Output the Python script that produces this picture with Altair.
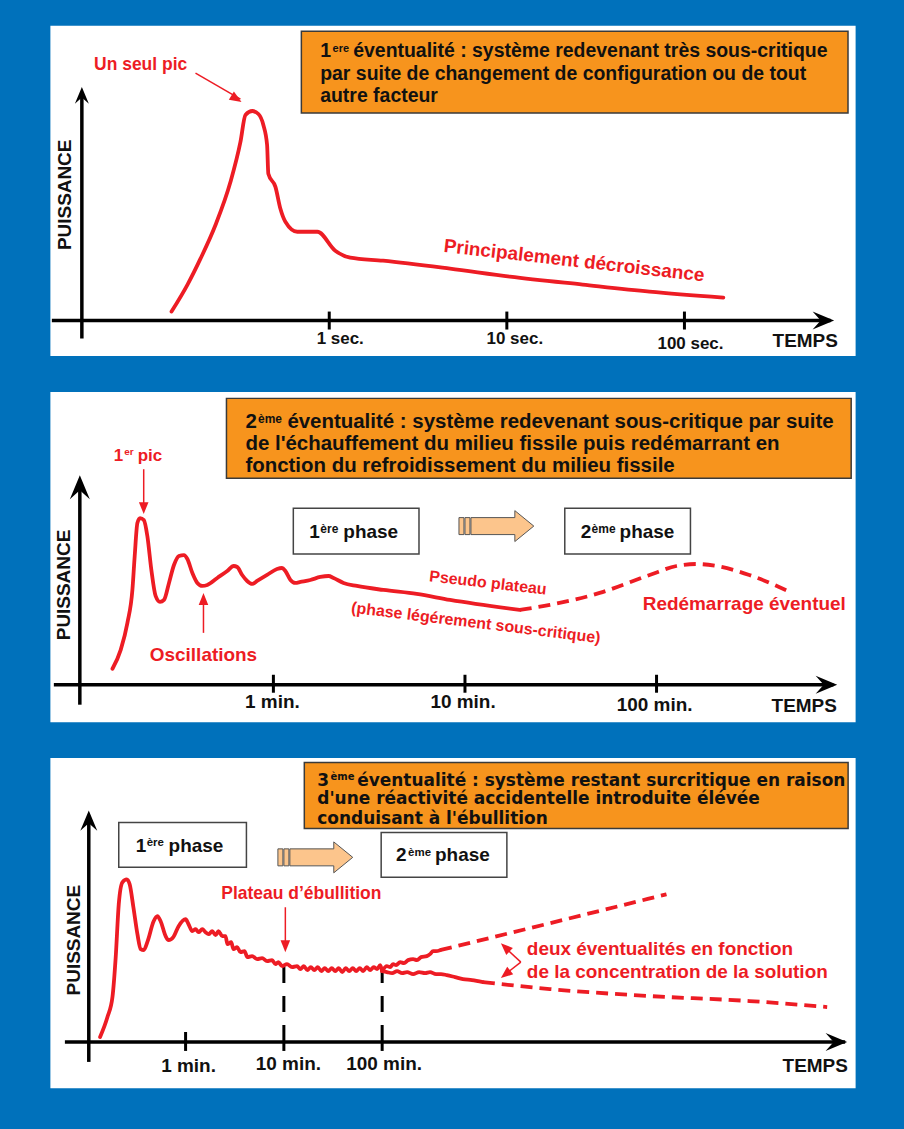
import altair as alt
import pandas as pd

RED = "#ED1C24"
ORANGE = "#F7941D"
PALE = "#FCC58C"
BLUE = "#0071BB"
INK = "#111111"
FONT = "Liberation Sans"
WIDE = "DejaVu Sans"
PW, PH = 807, 331

# ---------------------------------------------------------------------------
# Panel data: x = log10(time) in the panel's unit, y = puissance (arbitrary)
# ---------------------------------------------------------------------------
# Panel 1 (seconds)
p1_x = [-0.888, -0.798, -0.725, -0.640, -0.556, -0.500, -0.472, -0.433, -0.399,
        -0.371, -0.350, -0.343, -0.303, -0.275, -0.247, -0.180, -0.096, -0.067,
        0.034, 0.118, 0.303, 0.680, 1.017, 1.427, 1.803, 2.219]
p1_y = [9, 36, 62, 96, 139, 179, 206, 210, 207, 196, 176, 147, 134, 112, 99, 89,
        89, 89, 70, 63, 60, 52, 44, 36, 29, 23]
p1_ticks = [0, 1, 2]
p1_tick_labels = ["1 sec.", "10 sec.", "100 sec."]

# Panel 2 (minutes)
p2_x = [-0.840, -0.797, -0.762, -0.736, -0.724, -0.710, -0.696, -0.676, -0.658,
        -0.637, -0.615, -0.592, -0.571, -0.545, -0.519, -0.493, -0.467, -0.449,
        -0.423, -0.397, -0.371, -0.345, -0.293, -0.241, -0.207, -0.189, -0.163,
        -0.137, -0.111, -0.085, -0.033, 0.019, 0.045, 0.0625, 0.089, 0.115,
        0.141, 0.193, 0.245, 0.288, 0.314, 0.366, 0.436, 0.574, 0.748, 0.922, 1.286]
p2_y = [16, 35, 62, 95, 129, 162, 167, 165, 149, 115, 89, 83, 85, 102, 120, 129,
        130, 126, 112, 102, 99, 100, 107, 114, 119, 118, 110, 104, 101, 104, 110,
        116, 117, 114, 105, 102, 103, 105, 108, 109, 107, 102, 99, 95, 91, 85, 75]
p2_restart_x = [1.286, 1.443, 1.703, 1.964, 2.104, 2.208, 2.3125, 2.484, 2.708]
p2_restart_y = [75, 80, 92, 110, 119, 121, 119, 110, 92]
p2_ticks = [0, 1, 2]
p2_tick_labels = ["1 min.", "10 min.", "100 min."]

# Panel 3 (minutes)
p3_x = [-0.870, -0.795, -0.744, -0.711, -0.680, -0.643, -0.599, -0.569, -0.531,
        -0.490, -0.457, -0.426, -0.386, -0.325, -0.287, -0.254, -0.203, -0.173,
        -0.125, -0.071, 0.000, 0.030, 0.068, 0.102, 0.132, 0.170, 0.203, 0.234,
        0.271, 0.305, 0.335, 0.373, 0.406, 0.426, 0.464, 0.487, 0.525, 0.558,
        0.599, 0.629, 0.677, 0.728, 0.779, 0.829, 0.880, 0.914, 0.944, 0.982,
        1.032, 1.083, 1.134, 1.168, 1.203, 1.239, 1.274, 1.310, 1.345, 1.381,
        1.416, 1.452, 1.487, 1.523, 1.558, 1.594, 1.629, 1.665, 1.701, 1.736,
        1.772, 1.807, 1.843, 1.878, 1.914, 1.949, 1.980, 2.000]
p3_y = [5, 25, 45, 85, 138, 160, 163, 158, 135, 108, 93, 92, 101, 121, 126, 121,
        106, 102, 105, 116, 123, 118, 111, 113, 110, 113, 110, 108, 111, 107, 111,
        106, 106, 98, 100, 93, 95, 90, 91, 85, 86, 83, 84, 81, 82, 78, 80, 76, 78,
        75, 76, 73, 76, 72, 75, 72, 75, 71, 74, 71, 74, 71, 74, 70, 74, 71, 74, 71,
        74, 71, 75, 72, 75, 73, 77, 71]
p3_up_x = [2.000, 2.048, 2.081, 2.112, 2.142, 2.183, 2.223, 2.264, 2.315, 2.355,
           2.396, 2.454, 2.487, 2.518, 2.548, 2.589]
p3_up_y = [71, 76, 75, 78, 77, 80, 79, 82, 83, 82, 85, 86, 88, 91, 91, 92]
p3_up_dash_x = [2.589, 3.706, 4.893]
p3_up_dash_y = [92, 119, 148]
p3_low_x = [2.000, 2.048, 2.102, 2.152, 2.203, 2.254, 2.315, 2.376, 2.437, 2.487,
            2.548, 2.599, 2.657, 2.741, 2.822, 2.914, 3.025]
p3_low_y = [71, 70, 69, 71, 69, 70, 68, 70, 69, 70, 68, 68, 67, 65, 63, 62, 60]
p3_low_dash_x = [3.025, 3.706, 4.721, 5.736, 6.528]
p3_low_dash_y = [60, 53, 46, 41, 35]
p3_ticks = [0, 1, 2]
p3_tick_labels = ["1 min.", "10 min.", "100 min."]

# panel scale domains
XDOM = {1: [-1.573, 2.961], 2: [-1.1667, 3.0365], 3: [-1.3807, 6.8122]}
YDOM = {1: [-35, 296], 2: [-37, 294], 3: [-46, 285]}

UP_HEAD = "M0,0L1,2.4L0,1.5L-1,2.4Z"
RIGHT_HEAD = "M0,0L-2.4,-1L-1.5,0L-2.4,1Z"
TRI_HEAD = "M0,0L-0.6,1.5L0.6,1.5Z"
BLOCK_ARROW = ("M-1.172,-0.266L-1.016,-0.266L-1.016,0.266L-1.172,0.266Z "
               "M-0.984,-0.266L-0.828,-0.266L-0.828,0.266L-0.984,0.266Z "
               "M-0.797,-0.266L0.578,-0.266L0.578,-0.484L1.172,0L0.578,0.484"
               "L0.578,0.266L-0.797,0.266Z")


def scales(p):
    return (alt.Scale(domain=XDOM[p], nice=False, zero=False),
            alt.Scale(domain=YDOM[p], nice=False, zero=False))


def curve(p, xs, ys, **kw):
    xs_, ys_ = scales(p)
    df = pd.DataFrame({"x": xs, "y": ys, "o": list(range(len(xs)))})
    return alt.Chart(df).mark_line(**kw).encode(
        x=alt.X("x:Q", scale=xs_, axis=None),
        y=alt.Y("y:Q", scale=ys_, axis=None),
        order=alt.Order("o:Q"))


def segs(p, x, y, x2, y2, mark="rule", **kw):
    xs_, ys_ = scales(p)
    df = pd.DataFrame({"x": x, "y": y, "x2": x2, "y2": y2})
    ch = alt.Chart(df)
    ch = ch.mark_rule(**kw) if mark == "rule" else ch.mark_rect(**kw)
    return ch.encode(
        x=alt.X("x:Q", scale=xs_, axis=None),
        y=alt.Y("y:Q", scale=ys_, axis=None),
        x2="x2:Q", y2="y2:Q")


def texts(p, x, y, t, **kw):
    xs_, ys_ = scales(p)
    df = pd.DataFrame({"x": x, "y": y, "t": t})
    style = dict(font=FONT, fontWeight="bold", color=INK, align="left",
                 baseline="middle")
    style.update(kw)
    return alt.Chart(df).mark_text(**style).encode(
        x=alt.X("x:Q", scale=xs_, axis=None),
        y=alt.Y("y:Q", scale=ys_, axis=None),
        text="t:N")


def marker(p, x, y, **kw):
    xs_, ys_ = scales(p)
    df = pd.DataFrame({"x": x, "y": y})
    style = dict(opacity=1, filled=True)
    style.update(kw)
    return alt.Chart(df).mark_point(**style).encode(
        x=alt.X("x:Q", scale=xs_, axis=None),
        y=alt.Y("y:Q", scale=ys_, axis=None))


def axes(p, yx, ybot, ytop, xl, xr, ticks, tlo, thi, head_up, head_right):
    return [
        segs(p, [yx], [ybot], [yx], [ytop - 6], color="black", strokeWidth=3.5),
        segs(p, [xl], [0], [xr - 0.02], [0], color="black", strokeWidth=3.5),
        segs(p, ticks, [thi] * len(ticks), ticks, [tlo] * len(ticks),
             color="black", strokeWidth=3),
        marker(p, [yx], [ytop], shape=UP_HEAD, size=head_up, fill="black",
               strokeWidth=0),
        marker(p, [xr], [0], shape=RIGHT_HEAD, size=head_right, fill="black",
               strokeWidth=0),
    ]


def head(p, x, y, angle):
    return marker(p, [x], [y], shape=TRI_HEAD, size=256, fill=RED,
                  strokeWidth=0, angle=angle)


def phase_box(p, x1, y1, x2, y2):
    return segs(p, [x1], [y1], [x2], [y2], mark="rect", fill="white",
                stroke="#444444", strokeWidth=1.5)


def block_arrow(p, x, y):
    return marker(p, [x], [y], shape=BLOCK_ARROW, size=4096, fill=PALE,
                  stroke="#555555", strokeWidth=1)


solid = dict(color=RED, strokeWidth=3.8, interpolate="monotone",
             strokeCap="round", strokeJoin="round")
dashed = dict(color=RED, strokeWidth=3.8, interpolate="monotone",
              strokeDash=[12, 7])

# ------------------------------- panel 1 -----------------------------------
p1 = alt.layer(
    segs(1, [-0.157], [290], [2.921], [208], mark="rect", fill=ORANGE,
         stroke="#3a3a3a", strokeWidth=1.5),
    texts(1, [-0.051], [264], ["1"], fontSize=19.5, baseline="alphabetic"),
    texts(1, [0.019], [269], ["ere"], fontSize=11, baseline="alphabetic"),
    texts(1, [0.135, -0.051, -0.051], [264, 241, 219],
          ["éventualité : système redevenant très sous-critique",
           "par suite de changement de configuration ou de tout",
           "autre facteur"], fontSize=19.5, baseline="alphabetic"),
    *axes(1, -1.393, -18, 234, -1.562, 2.843, p1_ticks, -9, 9, 196, 324),
    texts(1, [0.062, 1.045, 2.034], [-19, -19, -24], p1_tick_labels,
          fontSize=17, align="center"),
    texts(1, [2.680], [-21], ["TEMPS"], fontSize=19, align="center"),
    texts(1, [-1.489], [126], ["PUISSANCE"], fontSize=19, align="center",
          angle=270),
    curve(1, p1_x, p1_y, **solid),
    texts(1, [-1.062], [256], ["Un seul pic"], fontSize=17.5, color=RED,
          align="center"),
    segs(1, [-0.753], [248], [-0.500], [222], color=RED, strokeWidth=1.5),
    head(1, -0.494, 219, 122),
    texts(1, [1.379], [60], ["Principalement décroissance"], fontSize=19,
          color=RED, align="center", angle=6.5),
).properties(width=PW, height=PH)

# ------------------------------- panel 2 -----------------------------------
p2 = alt.layer(
    segs(2, [-0.245], [287], [3.016], [207], mark="rect", fill=ORANGE,
         stroke="#3a3a3a", strokeWidth=1.5),
    texts(2, [-0.146], [257], ["2"], fontSize=20.5, baseline="alphabetic"),
    texts(2, [-0.080], [262], ["ème"], fontSize=12, baseline="alphabetic"),
    texts(2, [0.073, -0.146, -0.146], [257, 235, 213],
          ["éventualité : système redevenant sous-critique par suite",
           "de l'échauffement du milieu fissile puis redémarrant en",
           "fonction du refroidissement du milieu fissile"],
          fontSize=20.5, baseline="alphabetic"),
    phase_box(2, 0.104, 177, 0.760, 131),
    phase_box(2, 1.521, 177, 2.177, 131),
    texts(2, [0.1875, 0.365, 1.604, 1.807], [147, 147, 147, 147],
          ["1", "phase", "2", "phase"], fontSize=19, baseline="alphabetic"),
    texts(2, [0.245, 1.661], [152, 152], ["ère", "ème"], fontSize=12,
          baseline="alphabetic"),
    block_arrow(2, 1.164, 159),
    *axes(2, -1.0104, -20, 210, -1.146, 2.943, p2_ticks, -8, 10, 400, 324),
    texts(2, [-0.005, 0.99, 1.99], [-17, -17, -20], p2_tick_labels,
          fontSize=19, align="center"),
    texts(2, [2.771], [-21], ["TEMPS"], fontSize=19, align="center"),
    texts(2, [-1.094], [100], ["PUISSANCE"], fontSize=19, align="center",
          angle=270),
    curve(2, p2_x, p2_y, **solid),
    curve(2, p2_restart_x, p2_restart_y, **dashed),
    texts(2, [-0.833, -0.708], [224, 224], ["1", "pic"], fontSize=17,
          color=RED, baseline="alphabetic"),
    texts(2, [-0.779], [230], ["er"], fontSize=10, color=RED,
          baseline="alphabetic"),
    segs(2, [-0.677], [216], [-0.677], [175], color=RED, strokeWidth=1.5),
    head(2, -0.677, 171, 180),
    texts(2, [-0.365], [30], ["Oscillations"], fontSize=19, color=RED,
          align="center"),
    segs(2, [-0.365], [52], [-0.365], [88], color=RED, strokeWidth=1.5),
    head(2, -0.365, 92, 0),
    texts(2, [1.120], [102], ["Pseudo plateau"], fontSize=16, color=RED,
          align="center", angle=6.5),
    texts(2, [1.057], [62], ["(phase légérement sous-critique)"], fontSize=16,
          color=RED, align="center", angle=7),
    texts(2, [2.458], [80.5], ["Redémarrage éventuel"], fontSize=19,
          color=RED, align="center"),
).properties(width=PW, height=PH)

# ------------------------------- panel 3 -----------------------------------
p3 = alt.layer(
    segs(3, [1.208], [280], [6.741], [214], mark="rect", fill=ORANGE,
         stroke="#3a3a3a", strokeWidth=1.5),
    texts(3, [1.340], [257], ["3"], font=WIDE, fontSize=17,
          baseline="alphabetic"),
    texts(3, [1.475], [263], ["ème"], font=WIDE, fontSize=10,
          baseline="alphabetic"),
    texts(3, [1.746, 1.340, 1.340], [257, 238, 218],
          ["éventualité : système restant surcritique en raison",
           "d'une réactivité accidentelle introduite élévée",
           "conduisant à l'ébullition"],
          font=WIDE, fontSize=17, baseline="alphabetic"),
    phase_box(3, -0.680, 220, 0.619, 175),
    phase_box(3, 1.990, 210, 3.269, 165),
    texts(3, [-0.508, -0.173, 2.142, 2.538], [190, 190, 181, 181],
          ["1", "phase", "2", "phase"], fontSize=19, baseline="alphabetic"),
    texts(3, [-0.396, 2.264], [196, 186], ["ère", "ème"], fontSize=11.5,
          baseline="alphabetic"),
    block_arrow(3, 1.320, 185),
    segs(3, [1, 2], [75, 75], [1, 2], [10, 10], color="black", strokeWidth=3,
         strokeDash=[16, 13]),
    *axes(3, -0.985, -20, 232, -1.228, 6.731, p3_ticks, -9, 10, 289, 324),
    texts(3, [0.030, 1.046, 2.020], [-24, -22, -22], p3_tick_labels,
          fontSize=19, align="center"),
    texts(3, [6.406], [-24], ["TEMPS"], fontSize=19, align="center"),
    texts(3, [-1.137], [102], ["PUISSANCE"], fontSize=19, align="center",
          angle=270),
    curve(3, p3_x, p3_y, **solid),
    curve(3, p3_up_x, p3_up_y, **solid),
    curve(3, p3_low_x, p3_low_y, **solid),
    curve(3, p3_up_dash_x, p3_up_dash_y, **dashed),
    curve(3, p3_low_dash_x, p3_low_dash_y, **dashed),
    texts(3, [1.178], [148], ["Plateau d’ébullition"], fontSize=17.5,
          color=RED, align="center"),
    segs(3, [1.015], [135], [1.015], [94], color=RED, strokeWidth=1.5),
    head(3, 1.015, 90, 180),
    texts(3, [3.472, 3.472], [93, 70],
          ["deux éventualités en fonction",
           "de la concentration de la solution"], fontSize=19, color=RED),
    segs(3, [3.411, 3.411], [80, 80], [3.235, 3.235], [96, 66.5], color=RED,
         strokeWidth=1.5),
    head(3, 3.208, 99, 313.5),
    head(3, 3.208, 64, 231.3),
).properties(width=PW, height=PH)

chart = alt.vconcat(p1, p2, p3, spacing=34).properties(
    padding={"left": 49, "top": 23, "right": 48, "bottom": 45},
    background=BLUE,
).configure_view(fill="white", stroke="transparent")

chart.save("out.html", embed_options={"renderer": "svg", "actions": False})
